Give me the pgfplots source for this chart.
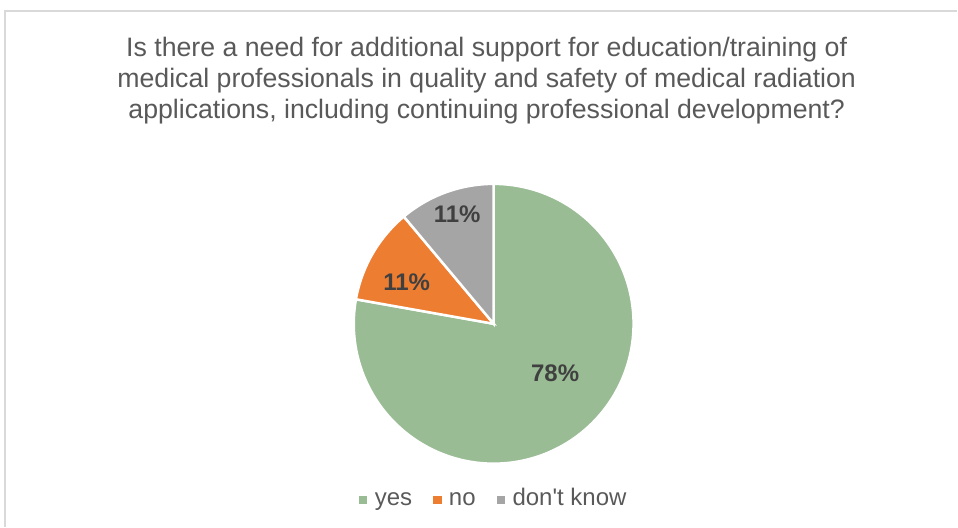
\documentclass[border=0pt]{standalone}
\usepackage{pgfplots}
\pgfplotsset{compat=1.18}
\usepackage{pgfplotstable}
\usepackage{fontspec}
\setmainfont{Liberation Sans}
\definecolor{cyes}{RGB}{153,188,148}
\definecolor{cno}{RGB}{237,125,49}
\definecolor{cdk}{RGB}{165,165,165}
\definecolor{ctitle}{RGB}{89,89,89}
\definecolor{clabel}{RGB}{64,64,64}
\definecolor{cborder}{RGB}{217,217,217}

\pgfplotstableread{
label value
yes 77.8
no 11.1
dk 11.1
}\piedata
\pgfplotstablegetelem{0}{value}\of\piedata \let\vyes\pgfplotsretval
\pgfplotstablegetelem{1}{value}\of\piedata \let\vno\pgfplotsretval
\pgfplotstablegetelem{2}{value}\of\piedata \let\vdk\pgfplotsretval
\pgfmathsetmacro\aA{90-3.6*\vyes}
\pgfmathsetmacro\aB{\aA-3.6*\vno}
\pgfmathsetmacro\aC{\aB-3.6*\vdk}
\def\cx{494}
\def\cy{203}
\def\rr{140}

\begin{document}
\begin{tikzpicture}
\begin{axis}[
  at={(0,0)}, anchor=south west,
  width=958pt, height=527pt, scale only axis,
  xmin=0, xmax=958, ymin=0, ymax=527,
  axis lines=none, clip=false,
  legend style={at={(axis cs:494,24)}, anchor=center, draw=none, fill=none,
    legend columns=-1, font=\fontsize{24}{24}\selectfont\color{ctitle},
    nodes={text height=0.72em, text depth=0.21em},
    /tikz/every even column/.append style={column sep=19pt},
    /tikz/every odd column/.append style={column sep=6pt}},
  legend image code/.code={\fill[#1] (0pt,-0.5pt) rectangle (7.5pt,7pt);},
]
\addplot[fill=cyes, draw=white, line width=2.5pt, domain=\aA:90, samples=150, forget plot]
  ({\cx+\rr*cos(x)},{\cy+\rr*sin(x)}) -- (\cx,\cy) -- cycle;
\addplot[fill=cno, draw=white, line width=2.5pt, domain=\aB:\aA, samples=40, forget plot]
  ({\cx+\rr*cos(x)},{\cy+\rr*sin(x)}) -- (\cx,\cy) -- cycle;
\addplot[fill=cdk, draw=white, line width=2.5pt, domain=\aC:\aB, samples=40, forget plot]
  ({\cx+\rr*cos(x)},{\cy+\rr*sin(x)}) -- (\cx,\cy) -- cycle;

\addlegendimage{cyes}\addlegendentry{yes}
\addlegendimage{cno}\addlegendentry{no}
\addlegendimage{cdk}\addlegendentry{don\textquotesingle t know}

\node[font=\bfseries\fontsize{24}{24}\selectfont, text=clabel] at (axis cs:555.5,154) {78\%};
\node[font=\bfseries\fontsize{24}{24}\selectfont, text=clabel] at (axis cs:407,245) {11\%};
\node[font=\bfseries\fontsize{24}{24}\selectfont, text=clabel] at (axis cs:457.5,313) {11\%};

\node[align=center, font=\fontsize{26.7}{31}\selectfont, text=ctitle] at (axis cs:487,446)
  {Is there a need for additional support for education/training of\\
   medical professionals in quality and safety of medical radiation\\
   applications, including continuing professional development?};

\draw[cborder, line width=1.3pt] (axis cs:5,0) -- (axis cs:5,516) -- (axis cs:958,516);
\end{axis}
\useasboundingbox (0,0) rectangle (958pt,527pt);
\end{tikzpicture}
\end{document}
